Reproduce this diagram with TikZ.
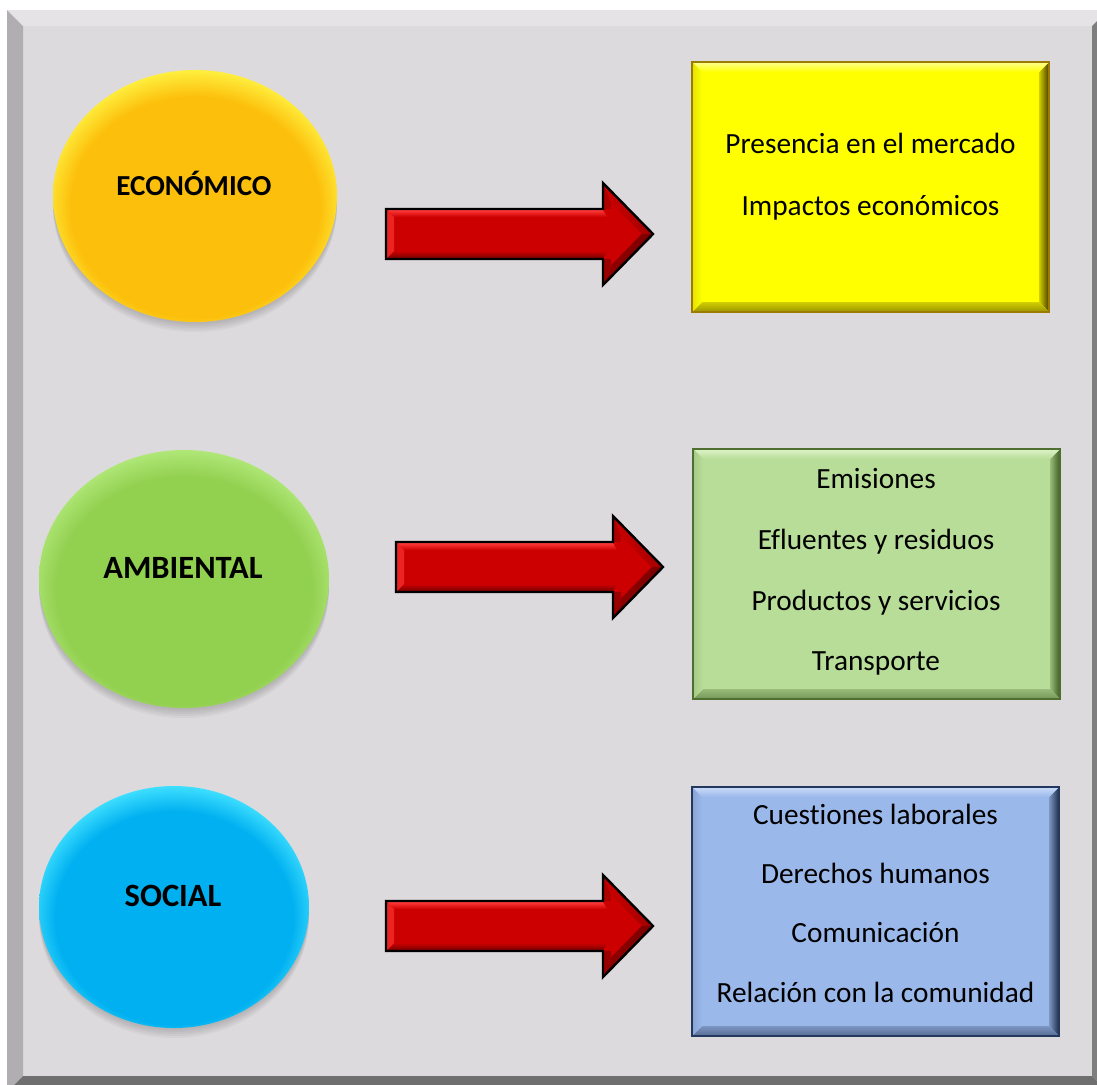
\documentclass[tikz,border=0pt]{standalone}
\usepackage{fontspec}
\setmainfont{Carlito}[Ligatures=NoCommon]
\usetikzlibrary{calc,shapes.geometric}
\definecolor{face}{HTML}{DCDADC}
\definecolor{bevtop}{HTML}{E5E3E5}
\definecolor{bevleft}{HTML}{B0AEB0}
\definecolor{bevright}{HTML}{7F7E7F}
\definecolor{bevbot}{HTML}{706F70}
\definecolor{ecoC}{HTML}{FCC00C}
\definecolor{ecoR}{HTML}{FFF040}
\definecolor{ambC}{HTML}{92D050}
\definecolor{ambR}{HTML}{B0E878}
\definecolor{socC}{HTML}{00B0F0}
\definecolor{socR}{HTML}{40E0FF}
\definecolor{redB}{HTML}{CC0000}
\definecolor{redL}{HTML}{FF3A3A}
\definecolor{redD}{HTML}{7A0000}
\definecolor{yF}{HTML}{FFFF00}
\definecolor{yD}{HTML}{4A3C00}
\definecolor{yL}{HTML}{FFFF90}
\definecolor{yB}{HTML}{9C7C00}
\definecolor{gF}{HTML}{B8DD98}
\definecolor{gD}{HTML}{3C5A22}
\definecolor{gL}{HTML}{DDF2C8}
\definecolor{gB}{HTML}{4F6F30}
\definecolor{bF}{HTML}{9BB8EB}
\definecolor{bD}{HTML}{1E2E4A}
\definecolor{bL}{HTML}{CADCF8}
\definecolor{bB}{HTML}{22385E}
\colorlet{ellbase}{ecoC}
\colorlet{ellrim}{ecoR}
\pgfdeclareradialshading[ellbase,ellrim]{ellrim}{\pgfpoint{0bp}{-4bp}}{color(0bp)=(ellbase); color(22bp)=(ellbase); color(27bp)=(ellrim); color(50bp)=(ellrim)}
\tikzset{
  ellnode/.style={ellipse, inner sep=0pt, outer sep=0pt, draw=none, shade, shading=ellrim},
  elltxt/.style={font=\bfseries\fontsize{32.5}{36}\selectfont, inner sep=0pt, anchor=base},
  panel/.style={rectangle, inner sep=0pt, outer sep=0pt, draw=none, anchor=north west},
  itemtxt/.style={font=\fontsize{29.3}{34}\selectfont, inner sep=0pt, anchor=base},
  arrowline/.style={draw=black, line width=2.4pt, line join=miter}
}
\newcommand\redarrow[3]{%
  \begin{scope}[shift={(#2,-#3)}]
    \coordinate (#1) at (0,0);
    \fill[redB] (0,25) -- (217,25) -- (217,51) -- (267,0) -- (217,-51) -- (217,-25) -- (0,-25) -- cycle;
    \shade[top color=redL, bottom color=redB] (1,24) -- (217,24) -- (221,17) -- (8,17) -- cycle;
    \shade[top color=redB, bottom color=redD] (1,-24) -- (217,-24) -- (221,-17) -- (8,-17) -- cycle;
    \fill[redL!60!redB] (1,24) -- (8,17) -- (8,-17) -- (1,-24) -- cycle;
    \shade[left color=redB, right color=redB!80!black] (217,51) -- (267,0) -- (255.8,0) -- (225,31.4) -- cycle;
    \shade[left color=redD!70!redB, right color=redD] (217,-51) -- (267,0) -- (255.8,0) -- (225,-31.4) -- cycle;
    \fill[redB!85!black] (217,51) -- (225,31.4) -- (225,25) -- (217,25) -- cycle;
    \fill[redD!60!redB] (217,-51) -- (225,-31.4) -- (225,-25) -- (217,-25) -- cycle;
    \path[arrowline] (0,25) -- (217,25) -- (217,51) -- (267,0) -- (217,-51) -- (217,-25) -- (0,-25) -- cycle;
  \end{scope}}
\newcommand\bevbox[5]{%
  \shade[left color=#2!75!#3, right color=#3] (#1.north east) -- (#1.south east) -- ($(#1.south east)+(-10,10)$) -- ($(#1.north east)+(-10,-10)$) -- cycle;
  \shade[top color=#4, bottom color=#2] (#1.north west) -- (#1.north east) -- ($(#1.north east)+(-10,-10)$) -- ($(#1.north west)+(10,-10)$) -- cycle;
  \shade[top color=#2!75!#3, bottom color=#3!55!#2] (#1.south west) -- (#1.south east) -- ($(#1.south east)+(-10,10)$) -- ($(#1.south west)+(10,10)$) -- cycle;
  \shade[left color=#2!85!#3, right color=#2] (#1.north west) -- (#1.south west) -- ($(#1.south west)+(10,10)$) -- ($(#1.north west)+(10,-10)$) -- cycle;
  \draw[#5, line width=1.6pt] (#1.north west) rectangle (#1.south east);}
\begin{document}
\begin{tikzpicture}[x=1pt,y=1pt]
\useasboundingbox (0,0) rectangle (1097,-1084);
\fill[white] (0,0) rectangle (1097,-1084);
\begin{scope}
  \clip (0,0) rectangle (1097,-1084);
  \fill[face] (23,-26) rectangle (1092,-1076);
  \fill[bevtop] (7,-10) -- (1108,-10) -- (1092,-26) -- (23,-26) -- cycle;
  \fill[bevleft] (7,-10) -- (23,-26) -- (23,-1076) -- (7,-1092) -- cycle;
  \fill[bevright] (1108,-10) -- (1092,-26) -- (1092,-1076) -- (1108,-1092) -- cycle;
  \fill[bevbot] (7,-1092) -- (23,-1076) -- (1092,-1076) -- (1108,-1092) -- cycle;
\end{scope}

% ellipses
\foreach \s in {2,4,6,8,10} \fill[black,opacity=0.035] (195,-196-\s) ellipse (142 and 126);
\colorlet{ellbase}{ecoC}\colorlet{ellrim}{ecoR}
\node[ellnode, minimum width=284pt, minimum height=252pt] (eco) at (195,-196) {};
\node[elltxt, font=\bfseries\fontsize{29}{34}\selectfont] (ecoT) at (194,-195) {ECONÓMICO};

\foreach \s in {2,4,6,8,10} \fill[black,opacity=0.035] (184,-579-\s) ellipse (145 and 129);
\colorlet{ellbase}{ambC}\colorlet{ellrim}{ambR}
\node[ellnode, minimum width=290pt, minimum height=258pt] (amb) at (184,-579) {};
\node[elltxt] (ambT) at (183,-578) {AMBIENTAL};

\foreach \s in {2,4,6,8,10} \fill[black,opacity=0.035] (174,-907-\s) ellipse (135 and 121);
\colorlet{ellbase}{socC}\colorlet{ellrim}{socR}
\node[ellnode, minimum width=270pt, minimum height=242pt] (soc) at (174,-907) {};
\node[elltxt] (socT) at (173,-906) {SOCIAL};

% arrows
\redarrow{arr1}{386}{234}
\redarrow{arr2}{396}{567}
\redarrow{arr3}{386}{926}

% boxes
\node[panel, fill=yF, minimum width=357pt, minimum height=250pt] (box1) at (692,-62) {};
\bevbox{box1}{yF}{yD}{yL}{yB}
\node[itemtxt] (b1a) at (870.5,-153) {Presencia en el mercado};
\node[itemtxt] (b1b) at (870.5,-215) {Impactos económicos};

\node[panel, fill=gF, minimum width=367pt, minimum height=250pt] (box2) at (693,-449) {};
\bevbox{box2}{gF}{gD}{gL}{gB}
\node[itemtxt] (b2a) at (876,-488) {Emisiones};
\node[itemtxt] (b2b) at (876,-549) {Efluentes y residuos};
\node[itemtxt] (b2c) at (876,-610) {Productos y servicios};
\node[itemtxt] (b2d) at (876,-670) {Transporte};

\node[panel, fill=bF, minimum width=367pt, minimum height=249pt] (box3) at (692,-787) {};
\bevbox{box3}{bF}{bD}{bL}{bB}
\node[itemtxt] (b3a) at (875.5,-824) {Cuestiones laborales};
\node[itemtxt] (b3b) at (875.5,-883) {Derechos humanos};
\node[itemtxt] (b3c) at (875.5,-942) {Comunicación};
\node[itemtxt] (b3d) at (875.5,-1002) {Relación con la comunidad};
\end{tikzpicture}
\end{document}
